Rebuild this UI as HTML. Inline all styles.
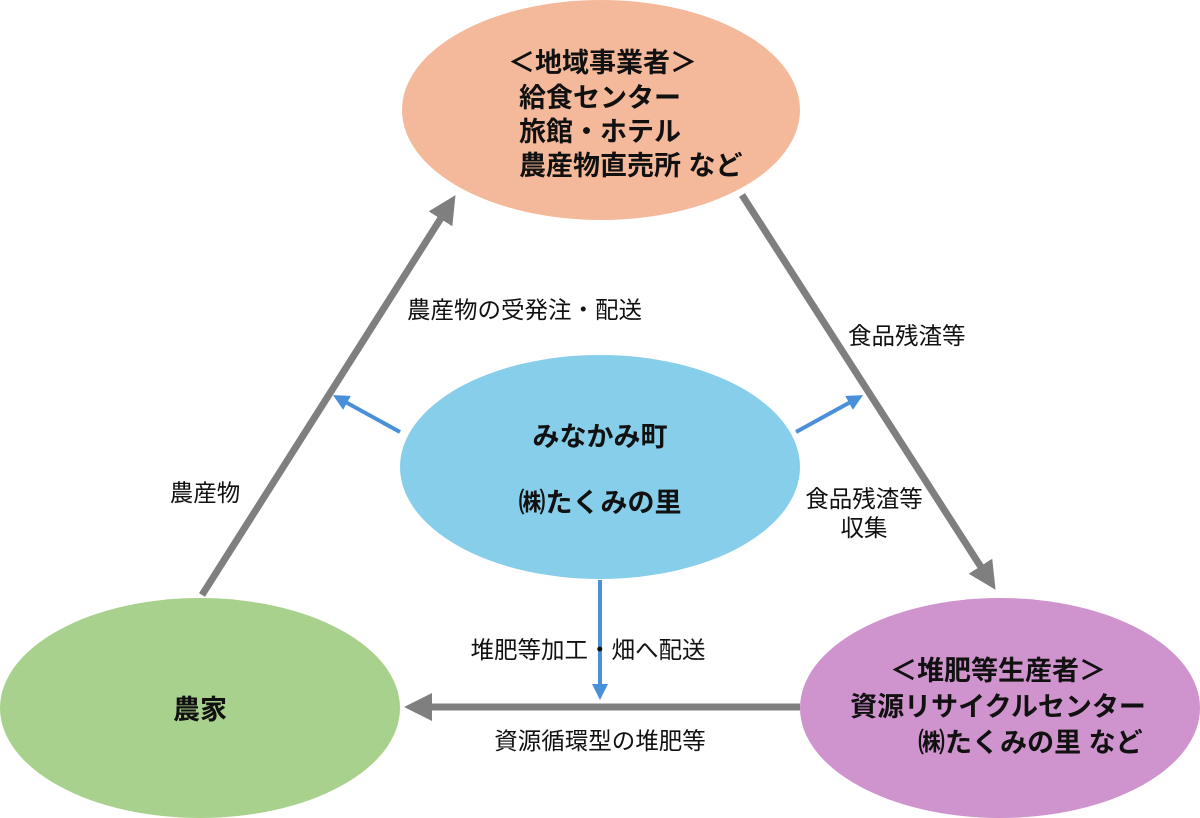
<!DOCTYPE html>
<html><head><meta charset="utf-8"><style>
html,body{margin:0;padding:0;background:#fff;width:1200px;height:818px;overflow:hidden}
text{font-family:"Liberation Sans","Noto Sans CJK JP",sans-serif;fill:#111}
</style></head><body>
<svg width="1200" height="818" viewBox="0 0 1200 818" xmlns="http://www.w3.org/2000/svg">
<defs>
<marker id="g" markerWidth="4" markerHeight="4" refX="2" refY="2" orient="auto" markerUnits="strokeWidth"><path d="M0,0 L4,2 L0,4 Z" fill="#7f7f7f"/></marker>
<marker id="b" markerWidth="4" markerHeight="4" refX="2" refY="2" orient="auto" markerUnits="strokeWidth"><path d="M0,0 L4,2 L0,4 Z" fill="#4a90d9"/></marker>
</defs>
<ellipse cx="601" cy="110" rx="199" ry="110" fill="#f4b99a"/>
<ellipse cx="600" cy="467" rx="200" ry="112" fill="#87ceeb"/>
<ellipse cx="200" cy="708" rx="200" ry="110" fill="#a9d18e"/>
<ellipse cx="1000" cy="708" rx="200" ry="110" fill="#cf94cd"/>
<g stroke="#7f7f7f" stroke-width="7" fill="none">
<line x1="202" y1="595" x2="448" y2="207" marker-end="url(#g)"/>
<line x1="742" y1="195" x2="988" y2="578" marker-end="url(#g)"/>
<line x1="800" y1="707" x2="418" y2="707" marker-end="url(#g)"/>
</g>
<g stroke="#4a90d9" stroke-width="4" fill="none">
<line x1="400" y1="432" x2="340" y2="399" marker-end="url(#b)"/>
<line x1="796" y1="432" x2="856" y2="399" marker-end="url(#b)"/>
<line x1="600" y1="580" x2="600" y2="692" marker-end="url(#b)"/>
</g>
<g font-size="27" font-weight="bold">
<text x="508" y="72">＜地域事業者＞</text>
<text x="519" y="107">給食センター</text>
<text x="519" y="141">旅館・ホテル</text>
<text x="519" y="175">農産物直売所 など</text>
<text x="600" y="446" text-anchor="middle">みなかみ町</text>
<text x="600" y="512" text-anchor="middle">㈱たくみの里</text>
<text x="200" y="719" text-anchor="middle">農家</text>
<text x="998" y="680" text-anchor="middle">＜堆肥等生産者＞</text>
<text x="998" y="716" text-anchor="middle">資源リサイクルセンター</text>
<text x="918" y="752">㈱たくみの里 など</text>
</g>
<g font-size="23.5">
<text x="407" y="318">農産物の受発注・配送</text>
<text x="848" y="344">食品残渣等</text>
<text x="864" y="507" text-anchor="middle">食品残渣等</text>
<text x="864" y="536" text-anchor="middle">収集</text>
<text x="205" y="501" text-anchor="middle">農産物</text>
<text x="588" y="658" text-anchor="middle">堆肥等加工・畑へ配送</text>
<text x="600" y="749" text-anchor="middle">資源循環型の堆肥等</text>
</g>
</svg>
</body></html>
